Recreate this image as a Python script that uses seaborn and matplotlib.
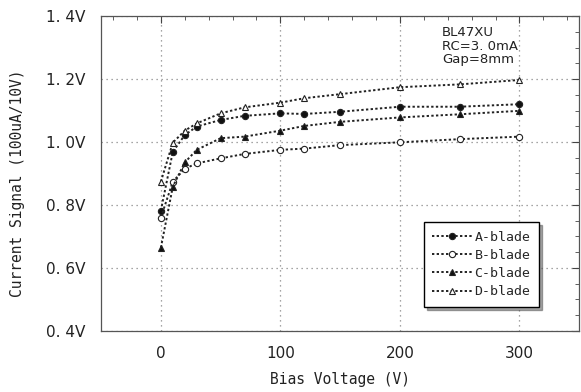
import pandas as pd
import matplotlib
matplotlib.use("Agg")
import matplotlib.pyplot as plt
from matplotlib.ticker import MultipleLocator, FixedLocator
import seaborn as sns

bias = [0, 10, 20, 30, 50, 70, 100, 120, 150, 200, 250, 300]
a_blade = [0.782, 0.969, 1.022, 1.049, 1.070, 1.083, 1.091, 1.089, 1.096, 1.112, 1.112, 1.120]
b_blade = [0.760, 0.874, 0.915, 0.932, 0.948, 0.962, 0.975, 0.979, 0.990, 0.999, 1.009, 1.017]
c_blade = [0.664, 0.858, 0.935, 0.975, 1.012, 1.017, 1.036, 1.051, 1.064, 1.078, 1.088, 1.099]
d_blade = [0.874, 0.998, 1.036, 1.059, 1.091, 1.110, 1.125, 1.139, 1.152, 1.174, 1.183, 1.197]

y_ticks = [0.4, 0.6, 0.8, 1.0, 1.2, 1.4]
y_tick_labels = ["0. 4V", "0. 6V", "0. 8V", "1. 0V", "1. 2V", "1. 4V"]
x_ticks = [0, 100, 200, 300]
note = "BL47XU\nRC=3. 0mA\nGap=8mm"

sns.set_style("white")
plt.rcParams['font.family'] = ['DejaVu Sans Mono', 'DejaVu Sans']

fig, ax = plt.subplots(figsize=(5.81, 3.92), dpi=100)
fig.subplots_adjust(left=0.174, right=0.997, top=0.959, bottom=0.156)

series = [
    ("A-blade", a_blade, "o", "#111111"),
    ("B-blade", b_blade, "o", "white"),
    ("C-blade", c_blade, "^", "#111111"),
    ("D-blade", d_blade, "^", "white"),
]
for name, vals, mk, fc in series:
    df = pd.DataFrame({"Bias": bias, "Signal": vals})
    sns.lineplot(data=df, x="Bias", y="Signal", ax=ax, label=name,
                 color="#222222", linestyle=(0, (1.2, 1.2)), linewidth=1.4,
                 marker=mk, markersize=4.5, markerfacecolor=fc,
                 markeredgecolor="#222222", markeredgewidth=0.8)

ax.set_xlim(-50, 350)
ax.set_ylim(0.4, 1.4)
ax.xaxis.set_major_locator(FixedLocator(x_ticks))
ax.xaxis.set_minor_locator(MultipleLocator(20))
ax.yaxis.set_major_locator(FixedLocator(y_ticks))
ax.yaxis.set_minor_locator(MultipleLocator(0.05))
ax.set_yticklabels(y_tick_labels, family="DejaVu Sans")
for lab in ax.get_xticklabels():
    lab.set_family("DejaVu Sans")
ax.tick_params(which="both", direction="in", top=True, right=True,
               labelsize=11, color="#444444", labelcolor="#222222")
ax.tick_params(which="major", length=5, width=0.8, pad=11)
ax.tick_params(which="minor", length=3, width=0.6)
ax.grid(True, which="major", linestyle=(0, (1, 3)), color="#888888", linewidth=0.9)
for s in ax.spines.values():
    s.set_color("#555555")
    s.set_linewidth(0.9)

ax.set_xlabel("Bias Voltage (V)", fontsize=10.5, labelpad=8, color="#222222")
ax.set_ylabel("Current Signal (100uA/10V)", fontsize=10.5, labelpad=10, color="#222222")
ax.yaxis.set_label_coords(-0.16, 0.47)

ax.text(235, 1.368, note, fontsize=9.5, va="top", ha="left",
        family="DejaVu Sans", linespacing=1.05, color="#222222")

leg = ax.legend(loc="lower right", bbox_to_anchor=(0.93, 0.055), fontsize=9.5,
                frameon=True, fancybox=False, shadow=True, borderpad=0.65,
                handlelength=3.0, labelspacing=0.4, handletextpad=0.2)
leg.get_frame().set_edgecolor("black")
leg.get_frame().set_linewidth(1.0)

plt.savefig("out.png", dpi=100)
